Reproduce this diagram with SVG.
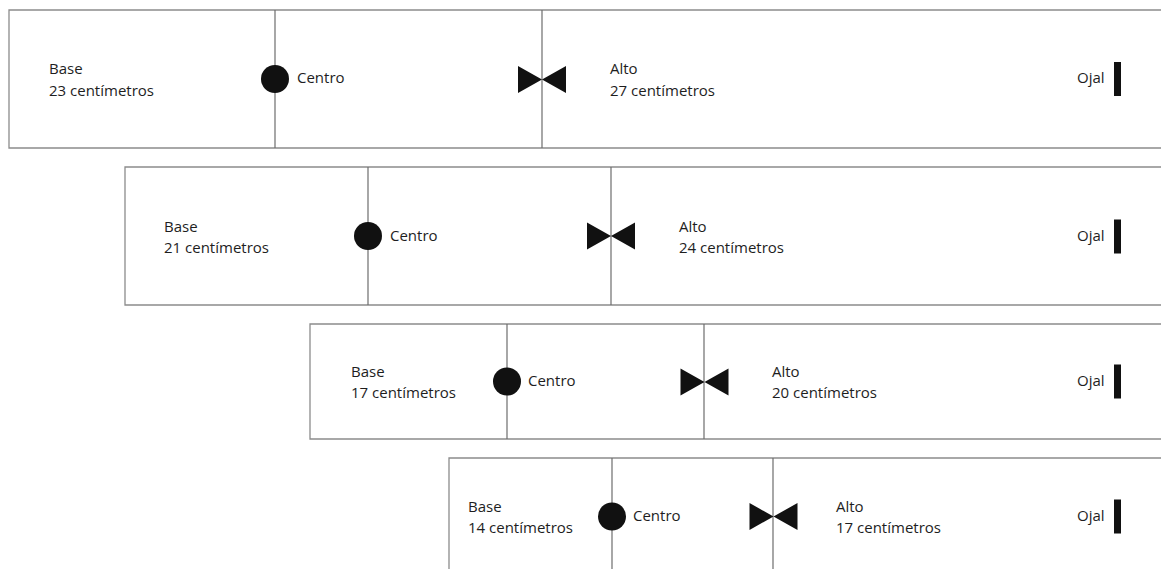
<svg xmlns="http://www.w3.org/2000/svg" width="1161" height="569" viewBox="0 0 1161 569">
<style>
.edge{fill:none;stroke:#8c8c8c;stroke-width:1.3}
.div{fill:none;stroke:#6e6e6e;stroke-width:1.2}
.t{font-family:"Open Sans","Liberation Sans",sans-serif;font-size:15px;fill:#1e1e1e}
.mk{fill:#111}
</style>
<defs>
<path id="bow" d="M-24,-13.5 L0,0 L-24,13.5 Z M24,-13.5 L0,0 L24,13.5 Z"/>
<rect id="bar" x="0" y="-17" width="7" height="34"/>
</defs>
<rect width="1161" height="569" fill="#fff"/>
<g id="connectors">
<path class="edge" d="M1161,10 H9 V148 H1161"/>
<path class="div" d="M275,10 V148 M542,10 V148"/>
<path class="edge" d="M1161,167 H125 V305 H1161"/>
<path class="div" d="M368,167 V305 M611,167 V305"/>
<path class="edge" d="M1161,324 H310 V439 H1161"/>
<path class="div" d="M507,324 V439 M704,324 V439"/>
<path class="edge" d="M1161,458 H449 V569"/>
<path class="div" d="M612,458 V569 M773,458 V569"/>
</g>
<g id="strip1">
<text class="t" x="49" y="74">Base</text>
<text class="t" x="49" y="96">23 centímetros</text>
<circle class="mk" cx="275" cy="79" r="14"/>
<text class="t" x="297" y="83">Centro</text>
<use href="#bow" class="mk" x="542" y="79.5"/>
<text class="t" x="610" y="74">Alto</text>
<text class="t" x="610" y="96">27 centímetros</text>
<text class="t" x="1077" y="83">Ojal</text>
<use href="#bar" class="mk" x="1114" y="79"/>
</g>
<g id="strip2">
<text class="t" x="164" y="232">Base</text>
<text class="t" x="164" y="253">21 centímetros</text>
<circle class="mk" cx="368" cy="236" r="14"/>
<text class="t" x="390" y="241">Centro</text>
<use href="#bow" class="mk" x="611" y="236"/>
<text class="t" x="679" y="232">Alto</text>
<text class="t" x="679" y="253">24 centímetros</text>
<text class="t" x="1077" y="241">Ojal</text>
<use href="#bar" class="mk" x="1114" y="236.5"/>
</g>
<g id="strip3">
<text class="t" x="351" y="377">Base</text>
<text class="t" x="351" y="398">17 centímetros</text>
<circle class="mk" cx="507" cy="381.5" r="14"/>
<text class="t" x="528" y="386">Centro</text>
<use href="#bow" class="mk" x="704.5" y="382"/>
<text class="t" x="772" y="377">Alto</text>
<text class="t" x="772" y="398">20 centímetros</text>
<text class="t" x="1077" y="386">Ojal</text>
<use href="#bar" class="mk" x="1114" y="381.5"/>
</g>
<g id="strip4">
<text class="t" x="468" y="512">Base</text>
<text class="t" x="468" y="533">14 centímetros</text>
<circle class="mk" cx="612" cy="516.5" r="14"/>
<text class="t" x="633" y="521">Centro</text>
<use href="#bow" class="mk" x="773.5" y="516.5"/>
<text class="t" x="836" y="512">Alto</text>
<text class="t" x="836" y="533">17 centímetros</text>
<text class="t" x="1077" y="521">Ojal</text>
<use href="#bar" class="mk" x="1114" y="516.5"/>
</g>
</svg>
